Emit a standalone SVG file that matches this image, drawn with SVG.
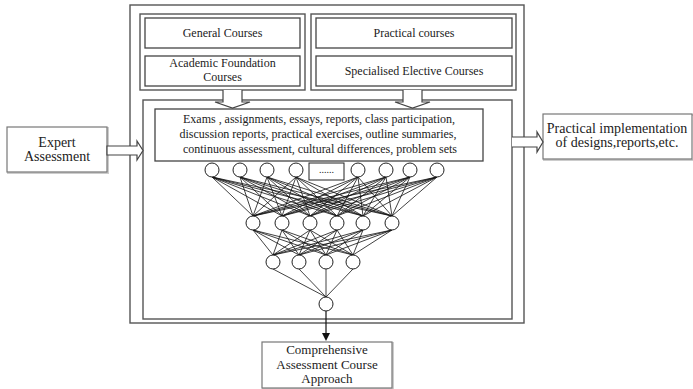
<svg xmlns="http://www.w3.org/2000/svg" width="693" height="389" viewBox="0 0 693 389">
<defs>
<style>
.frame{fill:none;stroke:#555;stroke-width:1.4}
.box{fill:#fff;stroke:#444;stroke-width:1.3}
.sbox{fill:#fff;stroke:#777;stroke-width:1.2}
.shadow{fill:none;stroke:#ccc;stroke-width:2}
.harrow{fill:#fff;stroke:#444;stroke-width:1.2}
.t{font-family:"Liberation Serif","Times New Roman",serif;fill:#222;text-anchor:middle}
.s12{font-size:12px}
.s14{font-size:14px}
.s13{font-size:13px}
.node{fill:#fff;stroke:#222;stroke-width:1}
.edge{fill:none;stroke:#111;stroke-width:0.8}
</style>
</defs>
<g id="outer-frame">
<rect class="frame" x="130" y="5" width="394" height="318"/>
<rect class="frame" x="143" y="100" width="369" height="219"/>
</g>
<g id="general-group">
<rect class="frame" x="140" y="14" width="165" height="76"/>
<rect class="box" x="145" y="18" width="155" height="30"/>
<text class="t s12" x="222.5" y="37">General Courses</text>
<rect class="box" x="145" y="56" width="155" height="30"/>
<text class="t s12" x="222.5" y="67">Academic Foundation</text>
<text class="t s12" x="222.5" y="81">Courses</text>
</g>
<g id="practical-group">
<rect class="frame" x="311" y="14" width="205" height="76"/>
<rect class="box" x="316" y="18" width="196" height="30"/>
<text class="t s12" x="414" y="37">Practical courses</text>
<rect class="box" x="316" y="56" width="196" height="30"/>
<text class="t s12" x="414" y="75">Specialised Elective Courses</text>
</g>
<g id="exams">
<rect class="box" x="155" y="109" width="328" height="52"/>
<text class="t s12" x="319" y="123" textLength="272" lengthAdjust="spacing">Exams , assignments, essays, reports, class participation,</text>
<text class="t s12" x="318" y="138" textLength="277" lengthAdjust="spacing">discussion reports, practical exercises, outline summaries,</text>
<text class="t s12" x="320" y="153" textLength="274" lengthAdjust="spacing">continuous assessment, cultural differences, problem sets</text>
</g>
<g id="expert">
<rect class="shadow" x="8" y="128" width="100" height="45"/>
<rect class="sbox" x="7" y="127" width="100" height="45"/>
<text class="t s14" x="57" y="147">Expert</text>
<text class="t s14" x="57" y="161">Assessment</text>
</g>
<g id="implementation">
<rect class="shadow" x="544" y="115" width="150" height="45"/>
<rect class="sbox" x="543" y="114" width="149" height="45"/>
<text class="t s14" x="617" y="133">Practical implementation</text>
<text class="t s14" x="617" y="147">of designs,reports,etc.</text>
</g>
<g id="comprehensive">
<rect class="shadow" x="263" y="343" width="130" height="46"/>
<rect class="sbox" x="262" y="342" width="130" height="46"/>
<text class="t s13" x="327" y="354">Comprehensive</text>
<text class="t s13" x="327" y="368.5">Assessment Course</text>
<text class="t s13" x="327" y="383">Approach</text>
</g>
<g id="connectors">
<path class="harrow" d="M223 90V102H215L232.5 108L250 102H242V90"/>
<path class="harrow" d="M403 90V102H395L412.5 108L430 102H422V90"/>
<path class="harrow" d="M107 146H137V141L143 150.5L137 160V155H107Z"/>
<path class="harrow" d="M512 137H537V132L543 142L537 152V147H512"/>
<path class="edge" d="M212 177L253 216M212 177L282 216M212 177L310 216M212 177L337 216M212 177L363 216M212 177L392 216M240 177L253 216M240 177L282 216M240 177L310 216M240 177L337 216M240 177L363 216M240 177L392 216M267 177L253 216M267 177L282 216M267 177L310 216M267 177L337 216M267 177L363 216M267 177L392 216M296 177L253 216M296 177L282 216M296 177L310 216M296 177L337 216M296 177L363 216M296 177L392 216M358 177L253 216M358 177L282 216M358 177L310 216M358 177L337 216M358 177L363 216M358 177L392 216M386 177L253 216M386 177L282 216M386 177L310 216M386 177L337 216M386 177L363 216M386 177L392 216M410 177L253 216M410 177L282 216M410 177L310 216M410 177L337 216M410 177L363 216M410 177L392 216M437 177L253 216M437 177L282 216M437 177L310 216M437 177L337 216M437 177L363 216M437 177L392 216"/>
<path class="edge" d="M253 230L273 255M253 230L299 255M253 230L326 255M253 230L353 255M282 230L273 255M282 230L299 255M282 230L326 255M282 230L353 255M310 230L273 255M310 230L299 255M310 230L326 255M310 230L353 255M337 230L273 255M337 230L299 255M337 230L326 255M337 230L353 255M363 230L273 255M363 230L299 255M363 230L326 255M363 230L353 255M392 230L273 255M392 230L299 255M392 230L326 255M392 230L353 255"/>
<path class="edge" d="M273 269L326 297M299 269L326 297M326 269L326 297M353 269L326 297"/>
<path d="M326 311V335" stroke="#111" stroke-width="1.2" fill="none"/>
<path d="M322 333L326 341L330 333Z" fill="#111"/>
</g>
<g id="layer1">
<circle class="node" cx="212" cy="170" r="7"/>
<circle class="node" cx="240" cy="170" r="7"/>
<circle class="node" cx="267" cy="170" r="7"/>
<circle class="node" cx="296" cy="170" r="7"/>
<rect class="node" x="309" y="163" width="35" height="17"/>
<text class="t" style="font-size:10px" x="326.5" y="173">......</text>
<circle class="node" cx="358" cy="170" r="7"/>
<circle class="node" cx="386" cy="170" r="7"/>
<circle class="node" cx="410" cy="170" r="7"/>
<circle class="node" cx="437" cy="170" r="7"/>
</g>
<g id="layer2">
<circle class="node" cx="253" cy="223" r="7"/>
<circle class="node" cx="282" cy="223" r="7"/>
<circle class="node" cx="310" cy="223" r="7"/>
<circle class="node" cx="337" cy="223" r="7"/>
<circle class="node" cx="363" cy="223" r="7"/>
<circle class="node" cx="392" cy="223" r="7"/>
</g>
<g id="layer3">
<circle class="node" cx="273" cy="262" r="7"/>
<circle class="node" cx="299" cy="262" r="7"/>
<circle class="node" cx="326" cy="262" r="7"/>
<circle class="node" cx="353" cy="262" r="7"/>
</g>
<g id="output">
<circle class="node" cx="326" cy="304" r="7"/>
</g>
</svg>
